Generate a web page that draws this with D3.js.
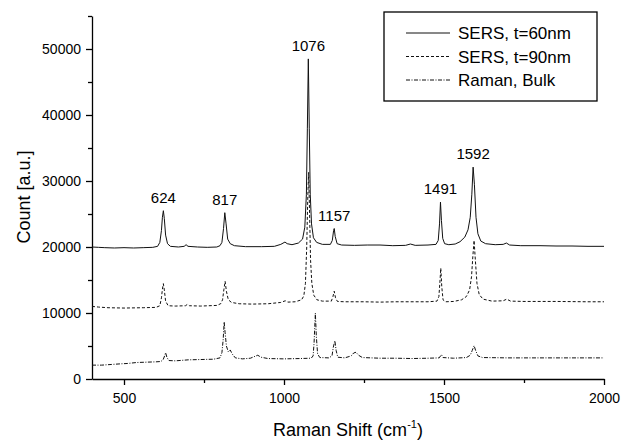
<!DOCTYPE html>
<html>
<head>
<meta charset="utf-8">
<script src="https://cdn.jsdelivr.net/npm/d3@7"></script>
<style>
  body { margin: 0; background: #fff; }
  svg { display: block; font-family: "Liberation Sans", Arial, sans-serif; }
</style>
</head>
<body>
<svg id="chart"></svg>
<script>
// spectra: [Raman shift (cm-1), count]
const sers60 = [
  [400,20000],[420,19950],[440,19900],[470,19850],[500,19900],[530,19850],[560,19900],[590,19950],
  [605,20100],[612,20700],[617,22500],[620,24500],[623,25500],[626,24300],[630,21800],[636,20500],
  [645,20100],[670,20000],[688,20100],[694,20350],[700,20100],[730,20000],[760,19950],[790,20000],
  [800,20200],[806,20700],[811,22800],[815,25200],[819,23500],[824,21200],[832,20500],[845,20200],
  [880,20050],[930,20050],[970,20100],[990,20400],[1003,20750],[1010,20500],[1025,20350],[1045,20600],
  [1058,21200],[1065,23000],[1070,28000],[1073,38000],[1076,48500],[1079,38000],[1082,28000],[1086,23500],
  [1092,21400],[1102,20700],[1120,20400],[1145,20400],[1151,21000],[1155,22500],[1157,22800],[1160,21600],
  [1166,20500],[1180,20300],[1220,20250],[1260,20300],[1300,20300],[1340,20200],[1380,20250],[1395,20450],
  [1410,20250],[1450,20300],[1475,20400],[1482,21000],[1486,23500],[1489,26800],[1492,24000],[1496,21300],
  [1502,20500],[1515,20350],[1535,20450],[1550,20800],[1565,21500],[1575,22600],[1582,24500],[1587,28000],
  [1591,32100],[1595,29500],[1600,24500],[1606,22000],[1615,20900],[1630,20500],[1660,20350],[1685,20400],
  [1695,20600],[1705,20300],[1740,20200],[1800,20200],[1850,20150],[1900,20150],[1950,20100],[2000,20100]
];
const sers90 = [
  [400,11000],[420,10900],[450,10800],[500,10750],[560,10800],[600,10850],[612,11100],[617,12300],
  [620,13600],[623,14450],[626,13500],[630,11800],[638,11100],[660,11050],[692,11100],[698,11300],
  [705,11100],[740,11050],[790,11150],[802,11400],[808,12000],[812,13500],[816,14800],[820,13300],
  [826,12000],[836,11600],[860,11400],[900,11350],[950,11400],[990,11600],[1004,11850],[1012,11650],
  [1035,11700],[1055,12000],[1062,12600],[1067,14500],[1071,20000],[1074,27000],[1077,31300],[1080,25000],
  [1083,18000],[1087,14500],[1093,12700],[1103,12000],[1120,11800],[1148,11800],[1153,12500],[1157,13300],
  [1161,12300],[1167,11750],[1190,11700],[1250,11700],[1300,11650],[1350,11700],[1400,11700],[1450,11700],
  [1478,11800],[1484,12500],[1487,14500],[1490,16800],[1493,14000],[1497,12000],[1505,11700],[1530,11750],
  [1555,12000],[1570,12500],[1580,13500],[1586,15500],[1590,18500],[1594,21000],[1598,18000],[1603,14500],
  [1610,12800],[1622,12100],[1650,11800],[1685,11850],[1696,12100],[1708,11800],[1750,11750],[1850,11750],
  [1950,11700],[2000,11700]
];
const ramanBulk = [
  [400,2100],[430,2100],[460,2200],[490,2300],[510,2350],[540,2500],[570,2550],[600,2600],
  [615,2650],[622,2900],[627,3500],[630,4000],[634,3300],[640,2800],[660,2750],[700,2900],
  [740,2950],[780,3000],[800,3200],[806,4000],[810,6000],[813,8650],[816,7000],[820,5000],
  [826,4100],[832,4400],[838,3800],[848,3200],[870,3050],[895,3150],[910,3450],[918,3600],
  [928,3300],[950,3100],[1000,3050],[1050,3100],[1085,3150],[1091,3500],[1094,5500],[1098,10000],
  [1101,6500],[1105,3800],[1112,3250],[1140,3200],[1150,3500],[1154,4800],[1159,5800],[1163,4300],
  [1168,3300],[1190,3200],[1210,3500],[1218,3950],[1225,4050],[1233,3600],[1245,3250],[1300,3150],
  [1350,3150],[1400,3100],[1450,3150],[1485,3200],[1492,3700],[1497,3250],[1530,3150],[1570,3250],
  [1582,3600],[1588,4300],[1594,5050],[1599,4300],[1606,3500],[1620,3250],[1700,3200],[1800,3200],
  [1900,3200],[2000,3200]
];

const seriesNames = ["SERS, t=60nm", "SERS, t=90nm", "Raman, Bulk"];
const peakLabels = ["624", "817", "1076", "1157", "1491", "1592"];
const peakPos = [623, 815, 1076, 1157, 1489, 1591];
const peakCount = [25500, 25200, 48500, 22800, 26800, 32100];

const xMajor = [500, 1000, 1500, 2000];
const xMinor = [750, 1250, 1750];
const yMajor = [0, 10000, 20000, 30000, 40000, 50000];
const yMinor = [5000, 15000, 25000, 35000, 45000, 55000];

const width = 621, height = 444;
const svg = d3.select("#chart").attr("width", width).attr("height", height);

const x = d3.scaleLinear().domain([400, 2000]).range([92, 604]);
const y = d3.scaleLinear().domain([0, 55000]).range([379, 16]);

// axes
const xAxis = svg.append("g").attr("transform", "translate(0,379)")
  .call(d3.axisBottom(x).tickValues(xMajor).tickSize(6).tickSizeOuter(0).tickPadding(8).tickFormat(d3.format("d")));
svg.append("g").attr("transform", "translate(0,379)")
  .call(d3.axisBottom(x).tickValues(xMinor).tickSize(4).tickFormat(""))
  .select(".domain").remove();

const yAxis = svg.append("g").attr("transform", "translate(92,0)")
  .call(d3.axisLeft(y).tickValues(yMajor).tickSize(6).tickSizeOuter(0).tickPadding(5).tickFormat(d3.format("d")));
svg.append("g").attr("transform", "translate(92,0)")
  .call(d3.axisLeft(y).tickValues(yMinor).tickSize(4).tickFormat(""))
  .select(".domain").remove();

svg.selectAll(".tick text").attr("font-size", 14).attr("font-family", "Liberation Sans, Arial, sans-serif").attr("fill", "#000");
svg.selectAll(".domain, .tick line").attr("stroke", "#000").attr("stroke-width", 1.3);

// axis titles
svg.append("text")
  .attr("transform", "translate(30,197) rotate(-90)")
  .attr("text-anchor", "middle")
  .attr("font-size", 18)
  .text("Count [a.u.]");

const xt = svg.append("text")
  .attr("x", 348).attr("y", 436)
  .attr("text-anchor", "middle")
  .attr("font-size", 18);
xt.append("tspan").text("Raman Shift (cm");
xt.append("tspan").attr("font-size", 11).attr("dy", -8).text("-1");
xt.append("tspan").attr("dy", 8).text(")");

// spectra
const styles = [
  { data: sers60, dash: null },
  { data: sers90, dash: "3,2" },
  { data: ramanBulk, dash: "4,1.5,1,1.5" }
];
const line = d3.line().x(d => x(d[0])).y(d => y(d[1]));

svg.selectAll(".spectrum")
  .data(styles)
  .enter()
  .append("path")
  .attr("class", "spectrum")
  .attr("d", d => line(d.data))
  .attr("fill", "none")
  .attr("stroke", "#111")
  .attr("stroke-width", 1)
  .attr("stroke-dasharray", d => d.dash);

// peak labels
svg.selectAll(".peak")
  .data(peakLabels)
  .enter()
  .append("text")
  .attr("class", "peak")
  .attr("x", (d, i) => x(peakPos[i]))
  .attr("y", (d, i) => y(peakCount[i]) - 8)
  .attr("text-anchor", "middle")
  .attr("font-size", 15)
  .text(d => d);

// legend
const legend = svg.append("g");
legend.append("rect")
  .attr("x", 384).attr("y", 12).attr("width", 213).attr("height", 89)
  .attr("fill", "#fff").attr("stroke", "#000").attr("stroke-width", 1.3);

const rows = legend.selectAll(".row")
  .data(seriesNames)
  .enter()
  .append("g")
  .attr("transform", (d, i) => `translate(0,${33 + i * 23.5})`);
rows.append("line")
  .attr("x1", 406).attr("x2", 450)
  .attr("stroke", "#111").attr("stroke-width", 1)
  .attr("stroke-dasharray", (d, i) => styles[i].dash);
rows.append("text")
  .attr("x", 458).attr("y", 6)
  .attr("font-size", 17)
  .text(d => d);
</script>
</body>
</html>
